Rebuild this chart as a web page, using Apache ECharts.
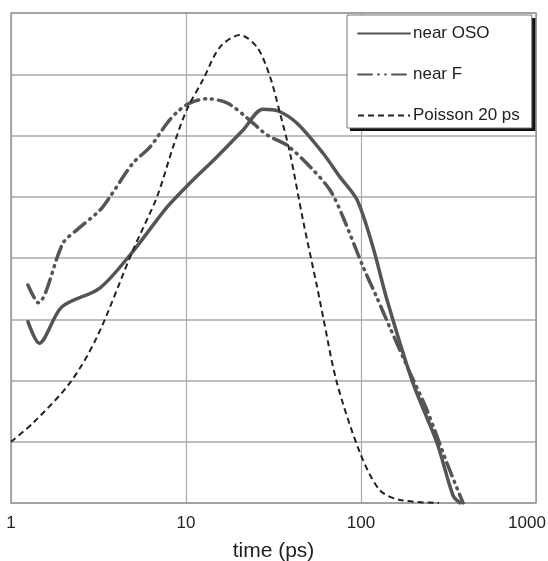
<!DOCTYPE html>
<html>
<head>
<meta charset="utf-8">
<script src="https://cdn.jsdelivr.net/npm/echarts@6/dist/echarts.min.js"></script>
<style>
  html, body { margin: 0; padding: 0; background: #fff; }
  #chart { width: 548px; height: 561px; }
</style>
</head>
<body>
<div id="chart"></div>
<script>
// values: [time in ps, signal in grid units]
const nearOSO = [
  [1.25, 2.96], [1.45, 2.61], [1.95, 3.2], [3.22, 3.51], [4.98, 4.11],
  [7.79, 4.83], [10.5, 5.22], [15.0, 5.65], [21.2, 6.09], [27.5, 6.43],
  [33.6, 6.4], [43.1, 6.2], [60.7, 5.71], [75.9, 5.32], [94.9, 4.95],
  [117, 4.18], [141, 3.31], [198, 1.96], [272, 0.98],
  [336, 0.12], [368, 0]
]
const nearF = [
  [1.25, 3.56], [1.43, 3.27], [1.98, 4.24], [2.38, 4.46], [3.22, 4.78],
  [3.68, 5.0], [4.98, 5.55], [6.22, 5.81], [7.79, 6.2], [8.88, 6.38],
  [10.5, 6.53], [13.2, 6.6], [17.2, 6.53], [22.3, 6.29], [29.0, 6.01],
  [37.8, 5.84], [51.1, 5.49], [66.5, 5.11], [78.9, 4.67], [103, 3.85],
  [123, 3.36], [146, 2.87], [191, 2.12], [238, 1.52], [310, 0.65], [383, 0]
]
const poisson = [
  [1, 1.0], [1.34, 1.31], [2.17, 1.96], [3.1, 2.71],
  [4.98, 4.13], [6.83, 5.0], [8.43, 5.81], [10.1, 6.42], [12.5, 6.91],
  [15.6, 7.44], [20.3, 7.64], [25.5, 7.44], [30.2, 6.96], [34.4, 6.37],
  [39.3, 5.71], [46.6, 4.62], [56.1, 3.53], [60.7, 3.04], [72.9, 1.96],
  [98.7, 0.82], [128, 0.21], [167, 0.05], [279, 0]
]
const seriesNames = ['near OSO', 'near F', 'Poisson 20 ps']

const chart = echarts.init(document.getElementById('chart'))
const font = "'Liberation Sans', Arial, sans-serif"
chart.setOption({
  animation: false,
  textStyle: { fontFamily: font },
  grid: {
    left: 11, right: 12, top: 13, bottom: 58,
    containLabel: false,
    outerBoundsMode: 'none'
  },
  // drop shadow of the legend box
  graphic: [{
    type: 'rect',
    z: 1,
    silent: true,
    shape: { x: 350, y: 18, width: 186, height: 113 },
    style: { fill: '#111' }
  }],
  legend: {
    data: seriesNames,
    z: 10,
    orient: 'vertical',
    left: 347,
    top: 15,
    padding: [10, 12, 4, 10],
    itemWidth: 52,
    itemHeight: 14,
    itemGap: 24,
    backgroundColor: '#fff',
    borderColor: '#777',
    borderWidth: 1,
    borderRadius: 0,
    itemStyle: { opacity: 0 },
    textStyle: { fontSize: 17, color: '#222', fontFamily: font, padding: [0, 0, 0, -2] }
  },
  xAxis: {
    type: 'log',
    logBase: 10,
    min: 1,
    max: 1000,
    name: 'time (ps)',
    nameLocation: 'middle',
    nameGap: 38,
    nameTextStyle: { fontSize: 21, color: '#222' },
    axisLine: { show: false },
    axisTick: { show: false },
    axisLabel: {
      fontSize: 17,
      color: '#222',
      margin: 12,
      formatter: v => (v >= 1000 ? '{last|' + v + '}' : String(v)),
      rich: { last: { fontSize: 17, color: '#222', padding: [0, 18, 0, 0] } }
    },
    splitLine: { lineStyle: { color: '#aaa', width: 1.2 } },
    minorSplitLine: { show: false }
  },
  yAxis: {
    type: 'value',
    min: 0,
    max: 8,
    interval: 1,
    axisLine: { show: false },
    axisTick: { show: false },
    axisLabel: { show: false },
    splitLine: { lineStyle: { color: '#aaa', width: 1.5 } }
  },
  series: [
    {
      name: seriesNames[0],
      type: 'line',
      data: nearOSO,
      smooth: 0.3,
      symbol: 'none',
      lineStyle: { color: '#555', width: 3.5, cap: 'round' },
      itemStyle: { color: '#555' }
    },
    {
      name: seriesNames[1],
      type: 'line',
      data: nearF,
      smooth: 0.3,
      symbol: 'none',
      lineStyle: { color: '#555', width: 3.5, type: [14, 6, 1, 6, 1, 6], cap: 'round' },
      itemStyle: { color: '#555' }
    },
    {
      name: seriesNames[2],
      type: 'line',
      data: poisson,
      smooth: 0.3,
      symbol: 'none',
      lineStyle: { color: '#222', width: 2, type: [6, 4] },
      itemStyle: { color: '#222' }
    },
    {
      // plot frame
      type: 'line',
      data: [],
      markArea: {
        silent: true,
        itemStyle: { color: 'rgba(0,0,0,0)', borderColor: '#999', borderWidth: 1.5 },
        data: [[{ coord: [1, 0] }, { coord: [1000, 8] }]]
      }
    }
  ]
})
</script>
</body>
</html>
